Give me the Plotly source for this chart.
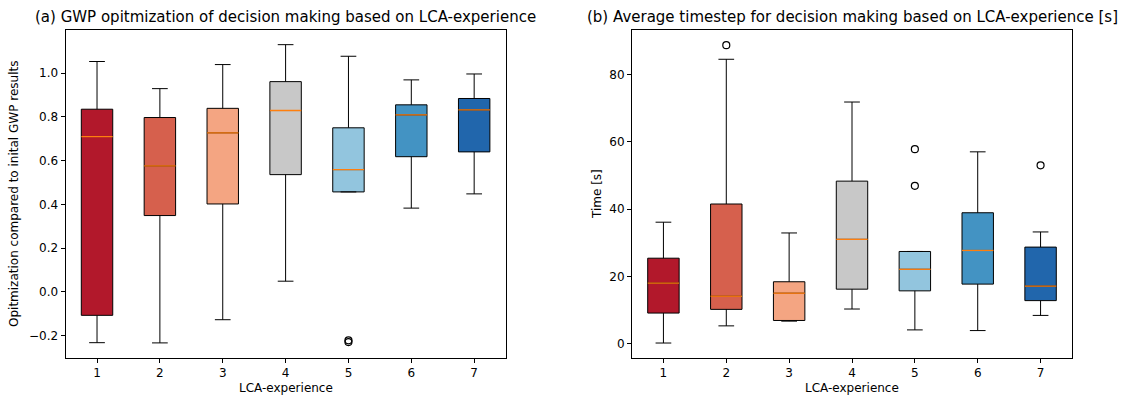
import plotly.graph_objects as go

# LCA-experience levels
levels = [1, 2, 3, 4, 5, 6, 7]
box_colors = ["#b2182b", "#d6604d", "#f4a582", "#c8c8c8", "#92c5de", "#4393c3", "#2166ac"]

# (a) GWP optimisation: box statistics per level
gwp_lower = [-0.232, -0.233, -0.127, 0.049, 0.457, 0.383, 0.448]
gwp_q1 = [-0.107, 0.349, 0.402, 0.536, 0.457, 0.618, 0.640]
gwp_median = [0.710, 0.576, 0.727, 0.829, 0.559, 0.809, 0.832]
gwp_q3 = [0.835, 0.797, 0.839, 0.961, 0.750, 0.855, 0.884]
gwp_upper = [1.053, 0.929, 1.039, 1.130, 1.077, 0.969, 0.996]
gwp_outlier_x = [5, 5]
gwp_outlier_y = [-0.221, -0.229]

# (b) Average timestep [s]: box statistics per level
time_lower = [0.2, 5.3, 6.7, 10.3, 4.1, 3.9, 8.4]
time_q1 = [9.1, 10.2, 6.9, 16.2, 15.7, 17.7, 12.8]
time_median = [18.0, 14.1, 15.0, 31.0, 22.1, 27.7, 17.1]
time_q3 = [25.4, 41.5, 18.4, 48.3, 27.4, 38.9, 28.7]
time_upper = [36.1, 84.5, 32.9, 71.8, 27.4, 57.0, 33.2]
time_outlier_x = [2, 5, 5, 7]
time_outlier_y = [88.7, 57.8, 46.9, 53.0]

BOX_WIDTH = 0.5
MEDIAN_COLOR = "#ff7f0e"
FONT = "DejaVu Sans"

W, H = 1127, 396
fig = go.Figure()


def add_panel(xa, ya, lower, q1, med, q3, upper, out_x, out_y):
    for i, lvl in enumerate(levels):
        fig.add_trace(go.Box(
            x=[lvl], q1=[q1[i]], median=[med[i]], q3=[q3[i]],
            lowerfence=[lower[i]], upperfence=[upper[i]],
            width=BOX_WIDTH, whiskerwidth=0.5,
            fillcolor=box_colors[i],
            line=dict(color="black", width=1),
            boxpoints=False, showlegend=False, hoverinfo="skip",
            xaxis=xa, yaxis=ya,
        ))
        # median line drawn in orange across the box
        fig.add_trace(go.Scatter(
            x=[lvl - BOX_WIDTH / 2, lvl + BOX_WIDTH / 2], y=[med[i], med[i]],
            mode="lines", line=dict(color=MEDIAN_COLOR, width=1.3),
            showlegend=False, hoverinfo="skip", xaxis=xa, yaxis=ya,
        ))
    fig.add_trace(go.Scatter(
        x=out_x, y=out_y, mode="markers",
        marker=dict(symbol="circle-open", size=7, color="black", line=dict(width=1.2)),
        showlegend=False, hoverinfo="skip", xaxis=xa, yaxis=ya,
    ))


add_panel("x", "y", gwp_lower, gwp_q1, gwp_median, gwp_q3, gwp_upper,
          gwp_outlier_x, gwp_outlier_y)
add_panel("x2", "y2", time_lower, time_q1, time_median, time_q3, time_upper,
          time_outlier_x, time_outlier_y)

# panel geometry in pixels
ax_a = (65.6, 505.6)
ax_b = (632.0, 1072.0)
top_px, bot_px = 30.0, 358.0
y_dom = [1 - bot_px / H, 1 - top_px / H]

axis_common = dict(
    showline=True, linecolor="black", linewidth=1, mirror=True,
    ticks="outside", ticklen=4, tickwidth=1, tickcolor="black",
    showgrid=False, zeroline=False,
    tickfont=dict(family=FONT, size=12, color="black"),
)

fig.update_layout(
    width=W, height=H,
    margin=dict(l=0, r=0, t=0, b=0),
    paper_bgcolor="white", plot_bgcolor="white",
    boxmode="overlay",
    font=dict(family=FONT, size=12, color="black"),
    xaxis=dict(domain=[ax_a[0] / W, ax_a[1] / W], range=[0.5, 7.5],
               tickvals=levels, anchor="y", **axis_common),
    yaxis=dict(domain=y_dom, range=[-0.302, 1.197], tickmode="linear",
               tick0=0, dtick=0.2, tickformat=".1f", anchor="x", **axis_common),
    xaxis2=dict(domain=[ax_b[0] / W, ax_b[1] / W], range=[0.5, 7.5],
                tickvals=levels, anchor="y2", **axis_common),
    yaxis2=dict(domain=y_dom, range=[-4.25, 93.2], tickmode="linear",
                tick0=0, dtick=20, anchor="x2", **axis_common),
)

title_y = 1 - 17 / H
xlabel_y = 1 - 388 / H
annotations = [
    dict(text="(a) GWP opitmization of decision making based on LCA-experience",
         x=(ax_a[0] + ax_a[1]) / 2 / W, y=title_y, font=dict(size=15)),
    dict(text="(b) Average timestep for decision making based on LCA-experience [s]",
         x=(ax_b[0] + ax_b[1]) / 2 / W, y=title_y, font=dict(size=15)),
    dict(text="LCA-experience", x=(ax_a[0] + ax_a[1]) / 2 / W, y=xlabel_y,
         font=dict(size=12)),
    dict(text="LCA-experience", x=(ax_b[0] + ax_b[1]) / 2 / W, y=xlabel_y,
         font=dict(size=12)),
    dict(text="Opitmization compared to inital GWP results", x=14 / W,
         y=1 - 194 / H, textangle=-90, font=dict(size=12)),
    dict(text="Time [s]", x=597 / W, y=1 - 194 / H, textangle=-90,
         font=dict(size=12)),
]
for a in annotations:
    a.update(xref="paper", yref="paper", showarrow=False,
             xanchor="center", yanchor="middle")
    a["font"].update(family=FONT, color="black")
fig.update_layout(annotations=annotations)

fig.write_html("out.html")
